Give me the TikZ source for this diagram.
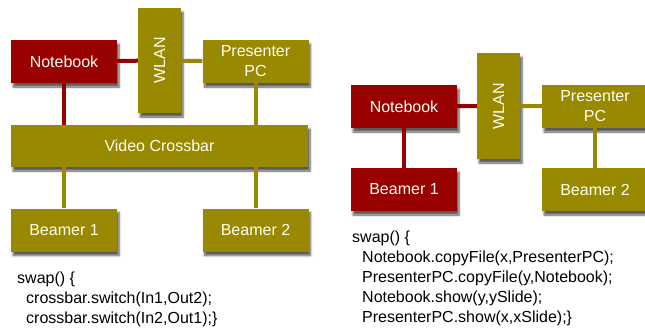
\documentclass[tikz,border=0pt]{standalone}
\usepackage{fontspec}
\setmainfont{Liberation Sans}
\usetikzlibrary{shadows.blur}
\definecolor{darkred}{RGB}{153,0,0}
\definecolor{olive}{RGB}{153,137,0}
\begin{document}
\begin{tikzpicture}[x=1pt,y=-1pt,line cap=butt,
		font=\fontsize{16}{20}\selectfont,
		box/.style={fill=#1,text=white!94!yellow,inner sep=0pt,
			blur shadow={shadow xshift=2pt,shadow yshift=-4pt,shadow blur steps=6,shadow opacity=65}},
		comp/.style={box=#1,minimum width=106,minimum height=43,align=center},
		link/.style={#1,line width=4pt},
		code/.style={anchor=base west,align=left,inner sep=0pt}]
	\useasboundingbox (0,0) rectangle (645,330);
	
	% left: video crossbar
	\node[comp=darkred] (nbA) at (64,61.5) {Notebook};
	\node[comp=olive] (pcA) at (255.5,61.5) {Presenter\\PC};
	\node[box=olive,minimum width=43,minimum height=105] (wlanA) at (159.5,60.5) {\rotatebox{90}{WLAN}};
	\node[box=olive,minimum width=297,minimum height=42] (xbar) at (159.5,146) {Video Crossbar};
	\node[comp=olive] (bmA1) at (64,230) {Beamer 1};
	\node[comp=olive] (bmA2) at (255.5,230) {Beamer 2};
	
	\draw[link=darkred] (nbA) -- (wlanA);
	\draw[link=olive] (wlanA) -- (pcA);
	\draw[link=darkred] (nbA) -- (nbA |- xbar.north);
	\draw[link=olive] (pcA) -- (pcA |- xbar.north);
	\draw[link=olive] (bmA1 |- xbar.south) -- (bmA1);
	\draw[link=olive] (bmA2 |- xbar.south) -- (bmA2);
	
	% base of a multi-line node = baseline of its last line
	\node[code] (codeA) at (17,323) {swap() \{\\
		\hspace*{9pt}crossbar.switch(In1,Out2);\\
		\hspace*{9pt}crossbar.switch(In2,Out1);\}};
	
	% right: file copy
	\node[comp=darkred] (nbB) at (404,106.5) {Notebook};
	\node[comp=olive] (pcB) at (595,106.5) {Presenter\\PC};
	\node[box=olive,minimum width=43,minimum height=106] (wlanB) at (498.5,106) {\rotatebox{90}{WLAN}};
	\node[comp=darkred] (bmB1) at (404,189.5) {Beamer 1};
	\node[comp=olive] (bmB2) at (595,189.5) {Beamer 2};
	
	\draw[link=darkred] (nbB) -- (wlanB);
	\draw[link=olive] (wlanB) -- (pcB);
	\draw[link=darkred] (nbB) -- (bmB1);
	\draw[link=olive] (pcB) -- (bmB2);
	
	\node[code] (codeB) at (352,322) {swap() \{\\
		\hspace*{10pt}Notebook.copyFile(x,PresenterPC);\\
		\hspace*{10pt}PresenterPC.copyFile(y,Notebook);\\
		\hspace*{10pt}Notebook.show(y,ySlide);\\
		\hspace*{10pt}PresenterPC.show(x,xSlide);\}};
\end{tikzpicture}
\end{document}
